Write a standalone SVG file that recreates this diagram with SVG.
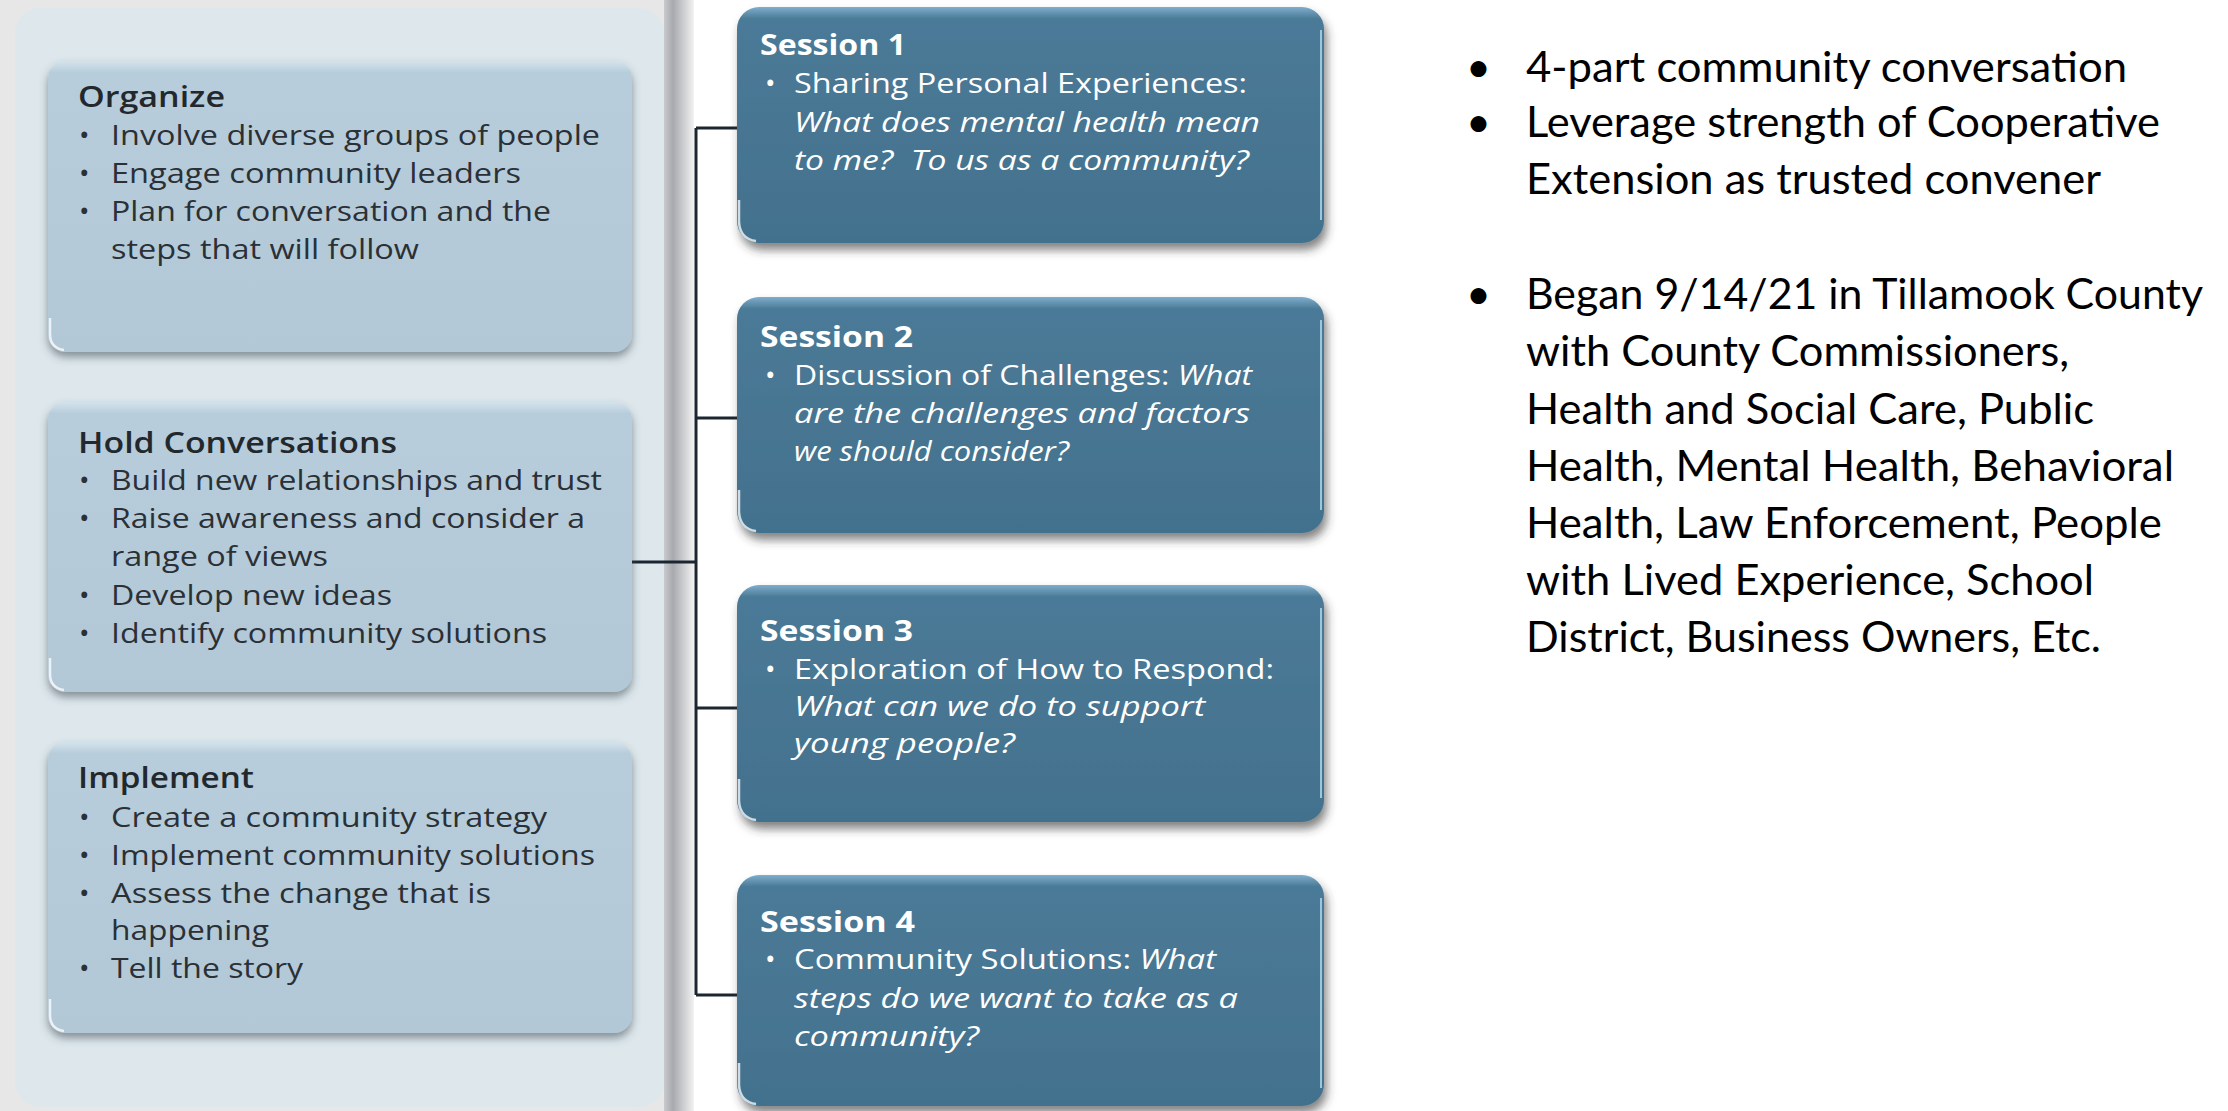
<svg xmlns="http://www.w3.org/2000/svg" width="2228" height="1111" viewBox="0 0 2228 1111">
<defs>
<style>
.lt{font-family:"Open Sans","DejaVu Sans",sans-serif;font-size:28px;fill:#2b3036}
.lh{font-family:"Open Sans","DejaVu Sans",sans-serif;font-size:28px;font-weight:600;fill:#23282d}
.st{font-family:"Open Sans","DejaVu Sans",sans-serif;font-size:28px;font-weight:700;fill:#ffffff}
.sx{font-family:"Open Sans","DejaVu Sans",sans-serif;font-size:28px;fill:#ffffff}
.it{font-style:italic}
.rt{font-family:Lato,"Liberation Sans",sans-serif;font-size:43px;fill:#000000}
.conn{stroke:#1c2630;stroke-width:3;fill:none}
.gl{stroke:#ffffff;stroke-width:2.5;fill:none;opacity:0.75}
.rh{stroke:#9cc6dd;stroke-width:2;fill:none}
</style>
<filter id="sh1" x="-5%" y="-5%" width="112%" height="120%">
<feDropShadow dx="0" dy="5" stdDeviation="4" flood-color="#3a4650" flood-opacity="0.55"/>
</filter>
<filter id="sh2" x="-5%" y="-5%" width="112%" height="125%">
<feDropShadow dx="3" dy="7" stdDeviation="5" flood-color="#333333" flood-opacity="0.6"/>
</filter>
<linearGradient id="edge" x1="0" y1="0" x2="1" y2="0">
<stop offset="0" stop-color="#c9cacd"/>
<stop offset="0.3" stop-color="#a7a9ae"/>
<stop offset="1" stop-color="#f2f2f2"/>
</linearGradient>
<linearGradient id="lgrad" x1="0" y1="0" x2="0" y2="1">
<stop offset="0" stop-color="#d3e3ec"/>
<stop offset="0.04" stop-color="#b7cddb"/>
<stop offset="1" stop-color="#b2c8d6"/>
</linearGradient>
<linearGradient id="sgrad" x1="0" y1="0" x2="0" y2="1">
<stop offset="0" stop-color="#7eaecb"/>
<stop offset="0.05" stop-color="#4a7a97"/>
<stop offset="1" stop-color="#43718d"/>
</linearGradient>
</defs>
<rect x="0" y="0" width="2228" height="1111" fill="#ffffff"/>
<g id="backdrop">
<rect x="0" y="0" width="666" height="1111" fill="#e7e7e8"/>
<rect x="664" y="0" width="30" height="1111" fill="url(#edge)"/>
<rect x="15" y="8" width="649" height="1099" rx="25" fill="#dde7ec"/>
</g>
<g id="connectors">
<path class="conn" d="M696 128 V995"/>
<path class="conn" d="M696 128 H737 M696 418 H737 M696 708 H737 M696 995 H737"/>
<path class="conn" d="M632 562 H696"/>
</g>
<g id="organize">
<rect x="48" y="61" width="584" height="291" rx="18" fill="url(#lgrad)" filter="url(#sh1)"/>
<path class="gl" d="M50 318 V334 Q50 348 64 350"/>
<text class="lh" x="78" y="107" textLength="147" lengthAdjust="spacingAndGlyphs">Organize</text>
<text class="lt" x="79" y="145">•</text><text class="lt" x="111" y="145" textLength="489" lengthAdjust="spacingAndGlyphs">Involve diverse groups of people</text>
<text class="lt" x="79" y="183">•</text><text class="lt" x="111" y="183" textLength="410" lengthAdjust="spacingAndGlyphs">Engage community leaders</text>
<text class="lt" x="79" y="221">•</text><text class="lt" x="111" y="221" textLength="440" lengthAdjust="spacingAndGlyphs">Plan for conversation and the</text>
<text class="lt" x="111" y="259" textLength="308" lengthAdjust="spacingAndGlyphs">steps that will follow</text>
</g>
<g id="hold-conversations">
<rect x="48" y="402" width="584" height="290" rx="18" fill="url(#lgrad)" filter="url(#sh1)"/>
<path class="gl" d="M50 658 V674 Q50 688 64 690"/>
<text class="lh" x="78" y="453" textLength="319" lengthAdjust="spacingAndGlyphs">Hold Conversations</text>
<text class="lt" x="79" y="490">•</text><text class="lt" x="111" y="490" textLength="491" lengthAdjust="spacingAndGlyphs">Build new relationships and trust</text>
<text class="lt" x="79" y="528">•</text><text class="lt" x="111" y="528" textLength="474" lengthAdjust="spacingAndGlyphs">Raise awareness and consider a</text>
<text class="lt" x="111" y="566" textLength="217" lengthAdjust="spacingAndGlyphs">range of views</text>
<text class="lt" x="79" y="605">•</text><text class="lt" x="111" y="605" textLength="281" lengthAdjust="spacingAndGlyphs">Develop new ideas</text>
<text class="lt" x="79" y="643">•</text><text class="lt" x="111" y="643" textLength="436" lengthAdjust="spacingAndGlyphs">Identify community solutions</text>
</g>
<g id="implement">
<rect x="48" y="742" width="584" height="291" rx="18" fill="url(#lgrad)" filter="url(#sh1)"/>
<path class="gl" d="M50 999 V1015 Q50 1029 64 1031"/>
<text class="lh" x="78" y="788" textLength="176" lengthAdjust="spacingAndGlyphs">Implement</text>
<text class="lt" x="79" y="827">•</text><text class="lt" x="111" y="827" textLength="436" lengthAdjust="spacingAndGlyphs">Create a community strategy</text>
<text class="lt" x="79" y="865">•</text><text class="lt" x="111" y="865" textLength="484" lengthAdjust="spacingAndGlyphs">Implement community solutions</text>
<text class="lt" x="79" y="903">•</text><text class="lt" x="111" y="903" textLength="380" lengthAdjust="spacingAndGlyphs">Assess the change that is</text>
<text class="lt" x="111" y="940" textLength="158" lengthAdjust="spacingAndGlyphs">happening</text>
<text class="lt" x="79" y="978">•</text><text class="lt" x="111" y="978" textLength="192" lengthAdjust="spacingAndGlyphs">Tell the story</text>
</g>
<g id="session-1">
<rect x="737" y="7" width="587" height="236" rx="22" fill="url(#sgrad)" filter="url(#sh2)"/>
<path class="gl" d="M739 200 V222 Q740 239 756 241"/>
<path class="rh" d="M1321 30 V220"/>
<text class="st" x="760" y="55" textLength="146" lengthAdjust="spacingAndGlyphs">Session 1</text>
<text class="sx" x="765" y="93">•</text><text class="sx" x="794" y="93" textLength="453" lengthAdjust="spacingAndGlyphs">Sharing Personal Experiences:</text>
<text class="sx it" x="794" y="132" textLength="466" lengthAdjust="spacingAndGlyphs">What does mental health mean</text>
<text class="sx it" x="794" y="170" textLength="455" lengthAdjust="spacingAndGlyphs">to me?&#160; To us as a community?</text>
</g>
<g id="session-2">
<rect x="737" y="297" width="587" height="236" rx="22" fill="url(#sgrad)" filter="url(#sh2)"/>
<path class="gl" d="M739 490 V512 Q740 529 756 531"/>
<path class="rh" d="M1321 320 V510"/>
<text class="st" x="760" y="347" textLength="153" lengthAdjust="spacingAndGlyphs">Session 2</text>
<text class="sx" x="765" y="385">•</text><text class="sx" x="794" y="385" textLength="458" lengthAdjust="spacingAndGlyphs">Discussion of Challenges: <tspan class="it">What</tspan></text>
<text class="sx it" x="794" y="423" textLength="456" lengthAdjust="spacingAndGlyphs">are the challenges and factors</text>
<text class="sx it" x="794" y="461" textLength="275" lengthAdjust="spacingAndGlyphs">we should consider?</text>
</g>
<g id="session-3">
<rect x="737" y="585" width="587" height="237" rx="22" fill="url(#sgrad)" filter="url(#sh2)"/>
<path class="gl" d="M739 779 V801 Q740 818 756 820"/>
<path class="rh" d="M1321 608 V798"/>
<text class="st" x="760" y="641" textLength="153" lengthAdjust="spacingAndGlyphs">Session 3</text>
<text class="sx" x="765" y="679">•</text><text class="sx" x="794" y="679" textLength="480" lengthAdjust="spacingAndGlyphs">Exploration of How to Respond:</text>
<text class="sx it" x="794" y="716" textLength="411" lengthAdjust="spacingAndGlyphs">What can we do to support</text>
<text class="sx it" x="794" y="753" textLength="221" lengthAdjust="spacingAndGlyphs">young people?</text>
</g>
<g id="session-4">
<rect x="737" y="875" width="587" height="231" rx="22" fill="url(#sgrad)" filter="url(#sh2)"/>
<path class="gl" d="M739 1063 V1085 Q740 1102 756 1104"/>
<path class="rh" d="M1321 898 V1088"/>
<text class="st" x="760" y="932" textLength="155" lengthAdjust="spacingAndGlyphs">Session 4</text>
<text class="sx" x="765" y="969">•</text><text class="sx" x="794" y="969" textLength="422" lengthAdjust="spacingAndGlyphs">Community Solutions: <tspan class="it">What</tspan></text>
<text class="sx it" x="794" y="1008" textLength="444" lengthAdjust="spacingAndGlyphs">steps do we want to take as a</text>
<text class="sx it" x="794" y="1046" textLength="185" lengthAdjust="spacingAndGlyphs">community?</text>
</g>
<g id="notes">
<text class="rt" x="1466" y="82">•</text><text class="rt" x="1526" y="82" textLength="601" lengthAdjust="spacingAndGlyphs">4-part community conversation</text>
<text class="rt" x="1466" y="137">•</text><text class="rt" x="1526" y="137" textLength="634" lengthAdjust="spacingAndGlyphs">Leverage strength of Cooperative</text>
<text class="rt" x="1526" y="194" textLength="575" lengthAdjust="spacingAndGlyphs">Extension as trusted convener</text>
<text class="rt" x="1466" y="309">•</text><text class="rt" x="1526" y="309" textLength="677" lengthAdjust="spacingAndGlyphs">Began 9/14/21 in Tillamook County</text>
<text class="rt" x="1526" y="366" textLength="543" lengthAdjust="spacingAndGlyphs">with County Commissioners,</text>
<text class="rt" x="1526" y="424" textLength="568" lengthAdjust="spacingAndGlyphs">Health and Social Care, Public</text>
<text class="rt" x="1526" y="481" textLength="648" lengthAdjust="spacingAndGlyphs">Health, Mental Health, Behavioral</text>
<text class="rt" x="1526" y="538" textLength="636" lengthAdjust="spacingAndGlyphs">Health, Law Enforcement, People</text>
<text class="rt" x="1526" y="595" textLength="568" lengthAdjust="spacingAndGlyphs">with Lived Experience, School</text>
<text class="rt" x="1526" y="652" textLength="575" lengthAdjust="spacingAndGlyphs">District, Business Owners, Etc.</text>
</g>
</svg>
